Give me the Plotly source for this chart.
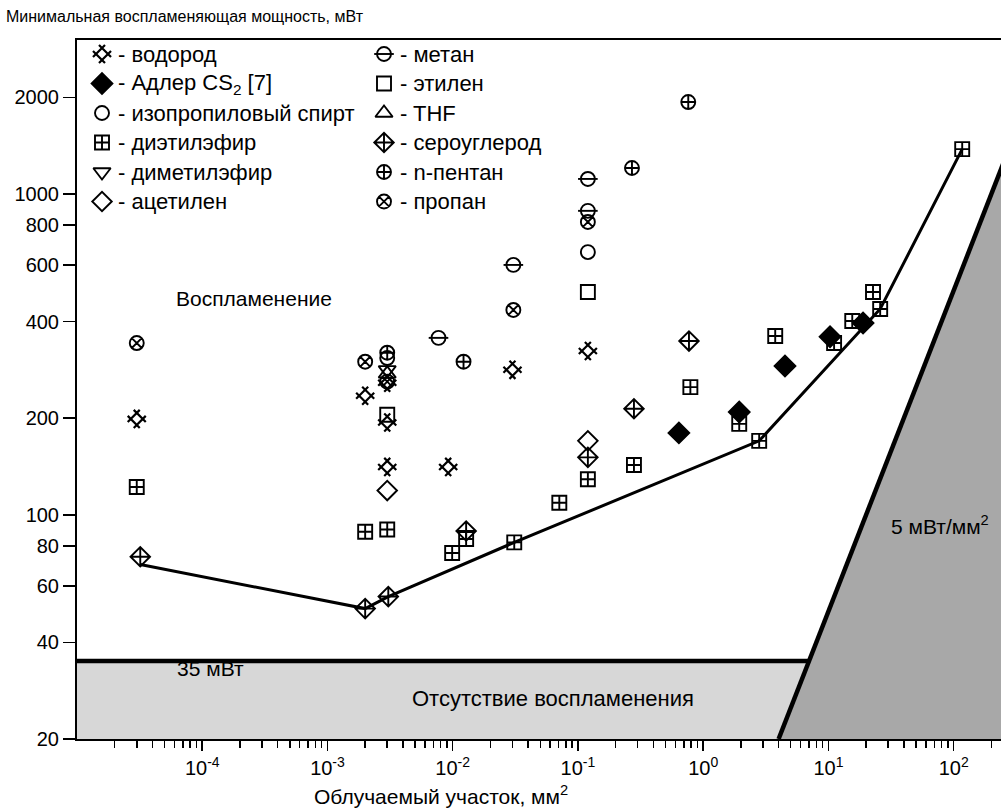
import numpy as np
import plotly.graph_objects as go

# ---------------- data ----------------
h2_x = [3e-5, 2e-3, 3e-3, 3e-3, 3e-3, 9.2e-3, 0.03, 0.12]
h2_y = [199, 235, 258, 194, 141, 141, 283, 324]

adler_x = [0.64, 1.94, 4.5, 10.3, 18.9]
adler_y = [180, 209, 291, 359, 396]

ipa_x = [3e-3, 0.12]
ipa_y = [308, 659]

dee_x = [3e-5, 2e-3, 3e-3, 9.9e-3, 0.0128, 0.031, 0.071, 0.12, 0.28, 0.79, 1.94, 2.8, 3.76, 11.1, 15.5, 22.7, 25.9, 117]
dee_y = [122, 88.5, 90, 76, 84, 82, 109, 129, 143, 250, 192, 170, 361, 343, 402, 495, 438, 1380]

dme_x = [3e-3]
dme_y = [283]

acet_x = [3e-3, 0.12]
acet_y = [119, 170]

ch4_x = [7.7e-3, 0.0305, 0.12, 0.12]
ch4_y = [356, 601, 1114, 886]

eth_x = [3e-3, 0.12]
eth_y = [205, 495]

thf_x = [3e-3]
thf_y = [275]

cs2_x = [3.2e-5, 2e-3, 3.06e-3, 0.0128, 0.12, 0.28, 0.77]
cs2_y = [74, 51, 55.6, 89, 151, 214, 348]

pent_x = [3e-3, 0.0122, 0.27, 0.76]
pent_y = [320, 300, 1205, 1935]

prop_x = [3e-5, 2e-3, 3e-3, 0.0305, 0.12]
prop_y = [343, 300, 260, 435, 818]

# boundary of minimal ignition power
line_x = [3.2e-5, 2e-3, 3.06e-3, 0.031, 2.8, 25.9, 117]
line_y = [70, 51, 55.6, 82, 170, 438, 1380]

limit_power = 35          # mW
flux_limit = 5            # mW/mm^2

x_tick_vals = [1e-4, 1e-3, 1e-2, 1e-1, 1e0, 1e1, 1e2]
x_tick_text = ["10<sup>-4</sup>", "10<sup>-3</sup>", "10<sup>-2</sup>", "10<sup>-1</sup>",
               "10<sup>0</sup>", "10<sup>1</sup>", "10<sup>2</sup>"]
y_tick_vals = [20, 40, 60, 80, 100, 200, 400, 600, 800, 1000, 2000]

legend_col1 = [("водород", "h2"), ("Адлер CS<sub>2</sub> [7]", "adler"),
               ("изопропиловый спирт", "ipa"), ("диэтилэфир", "dee"),
               ("диметилэфир", "dme"), ("ацетилен", "acet")]
legend_col2 = [("метан", "ch4"), ("этилен", "eth"), ("THF", "thf"),
               ("сероуглерод", "cs2"), ("n-пентан", "pent"), ("пропан", "prop")]

# ---------------- styling ----------------
FONT = "Liberation Sans, Arial, sans-serif"
FS_TEXT = 21
FS_LEG = 22
FS_TICK = 20
FS_TITLE = 16
W, H = 1001, 809
ML, MR, MT, MB = 77, 0, 40, 70
PW, PH = W - ML - MR, H - MT - MB
X_RANGE = [-5, 2.378]
Y_RANGE = [np.log10(20), 3.48]
LW = 1.9
MS = 14

styles = {
    "h2":    [dict(symbol="hash-open", angle=45, size=MS + 3, lw=2.2)],
    "adler": [dict(symbol="diamond", size=MS + 2)],
    "ipa":   [dict(symbol="circle-open", size=MS)],
    "dee":   [dict(symbol="square-cross-open", size=MS)],
    "dme":   [dict(symbol="triangle-down-open", size=MS + 1)],
    "acet":  [dict(symbol="diamond-open", size=MS + 1)],
    "ch4":   [dict(symbol="circle-open", size=MS), dict(symbol="line-ew", size=MS)],
    "eth":   [dict(symbol="square-open", size=MS)],
    "thf":   [dict(symbol="triangle-up-open", size=MS + 1)],
    "cs2":   [dict(symbol="diamond-cross-open", size=MS + 1)],
    "pent":  [dict(symbol="circle-cross-open", size=MS)],
    "prop":  [dict(symbol="circle-x-open", size=MS)],
}
data = {
    "h2": (h2_x, h2_y), "adler": (adler_x, adler_y), "ipa": (ipa_x, ipa_y),
    "dee": (dee_x, dee_y), "dme": (dme_x, dme_y), "acet": (acet_x, acet_y),
    "ch4": (ch4_x, ch4_y), "eth": (eth_x, eth_y), "thf": (thf_x, thf_y),
    "cs2": (cs2_x, cs2_y), "pent": (pent_x, pent_y), "prop": (prop_x, prop_y),
}


def marker(st):
    m = dict(symbol=st["symbol"], size=st["size"], color="black",
             line=dict(color="black", width=st.get("lw", LW)))
    if "angle" in st:
        m["angle"] = st["angle"]
    return m


def px_to_paper(px, py):
    return (px - ML) / PW, (H - MB - py) / PH


fig = go.Figure()

xmin, xmax = 10 ** X_RANGE[0], 10 ** (X_RANGE[1] + 0.5)
ymin, ymax = 10 ** Y_RANGE[0], 10 ** (Y_RANGE[1] + 0.5)

# light grey "no ignition" band below 35 mW
fig.add_trace(go.Scatter(
    x=[xmin, xmin, limit_power / flux_limit, ymin / flux_limit, xmin],
    y=[ymin, limit_power, limit_power, ymin, ymin],
    fill="toself", fillcolor="#d7d7d7", mode="lines", line=dict(width=0),
    hoverinfo="skip", showlegend=False))
fig.add_trace(go.Scatter(
    x=[xmin, limit_power / flux_limit], y=[limit_power, limit_power],
    mode="lines", line=dict(color="black", width=4.5), showlegend=False, hoverinfo="skip"))
# dark grey region beyond the 5 mW/mm^2 limit
fig.add_trace(go.Scatter(
    x=[ymin / flux_limit, ymax / flux_limit, xmax, xmax, ymin / flux_limit],
    y=[ymin, ymax, ymax, ymin, ymin],
    fill="toself", fillcolor="#a8a8a8", mode="lines", line=dict(width=0),
    hoverinfo="skip", showlegend=False))
fig.add_trace(go.Scatter(
    x=[ymin / flux_limit, ymax / flux_limit], y=[ymin, ymax],
    mode="lines", line=dict(color="black", width=4.5), showlegend=False, hoverinfo="skip"))

# boundary polyline
fig.add_trace(go.Scatter(x=line_x, y=line_y, mode="lines",
                         line=dict(color="black", width=3), showlegend=False, hoverinfo="skip"))

# data markers
for key, (xs, ys) in data.items():
    for st in styles[key]:
        fig.add_trace(go.Scatter(x=xs, y=ys, mode="markers", marker=marker(st),
                                 showlegend=False, cliponaxis=False))

# ---------------- legend drawn on a pixel helper axis ----------------
ROW0, ROW_STEP = 54, 29.5
COL_KEY = [102, 384]
LABEL_GAP = 14
annotations = []
for c, col in enumerate([legend_col1, legend_col2]):
    for r, (label, key) in enumerate(col):
        ky = ROW0 + r * ROW_STEP
        for st in styles[key]:
            fig.add_trace(go.Scatter(x=[COL_KEY[c]], y=[ky], xaxis="x2", yaxis="y2",
                                     mode="markers", marker=marker(st),
                                     showlegend=False, hoverinfo="skip", cliponaxis=False))
        xp, yp = px_to_paper(COL_KEY[c] + LABEL_GAP, ky)
        annotations.append(dict(x=xp, y=yp, xref="paper", yref="paper",
                                text="- " + label, showarrow=False, xanchor="left",
                                yanchor="middle", font=dict(size=FS_LEG, color="black", family=FONT)))

texts = [
    ("Воспламенение", 254, 298, "center", FS_TEXT),
    ("35 мВт", 210, 668, "center", FS_TEXT),
    ("Отсутствие воспламенения", 553, 698, "center", FS_TEXT + 1),
    ("5 мВт/мм<sup>2</sup>", 940, 525, "center", FS_TEXT),
    ("Минимальная воспламеняющая мощность, мВт", 4, 17, "left", FS_TITLE),
    ("Облучаемый участок, мм<sup>2</sup>", 441, 795, "center", FS_TEXT),
]
for t, px, py, anc, fs in texts:
    xp, yp = px_to_paper(px, py)
    annotations.append(dict(x=xp, y=yp, xref="paper", yref="paper", text=t, showarrow=False,
                            xanchor=anc, yanchor="middle",
                            font=dict(size=fs, color="black", family=FONT)))

minor_vals = [m * 10 ** e for e in range(-5, 3) for m in range(2, 10)]

fig.update_layout(
    width=W, height=H, margin=dict(l=ML, r=MR, t=MT, b=MB),
    paper_bgcolor="white", plot_bgcolor="white",
    font=dict(family=FONT, size=FS_TICK, color="black"),
    showlegend=False,
    annotations=annotations,
    xaxis=dict(type="log", range=X_RANGE, showgrid=False, zeroline=False,
               showline=True, linecolor="black", linewidth=2, mirror=True,
               ticks="outside", ticklen=10, tickwidth=1.5, tickcolor="black",
               tickvals=x_tick_vals, ticktext=x_tick_text,
               tickfont=dict(size=FS_TICK, family=FONT),
               minor=dict(ticks="outside", ticklen=7, tickwidth=1.5, tickcolor="black",
                          tickvals=minor_vals, showgrid=False)),
    yaxis=dict(type="log", range=Y_RANGE, showgrid=False, zeroline=False,
               showline=True, linecolor="black", linewidth=2,
               ticks="outside", ticklen=12, tickwidth=1.5, tickcolor="black",
               tickvals=y_tick_vals, ticktext=[str(v) for v in y_tick_vals],
               tickfont=dict(size=FS_TICK, family=FONT)),
    xaxis2=dict(overlaying="x", range=[ML, W - MR], visible=False, fixedrange=True),
    yaxis2=dict(overlaying="y", range=[H - MB, MT], visible=False, fixedrange=True),
)

fig.write_html("out.html", config={"displayModeBar": False, "staticPlot": True},
               post_script="document.body.style.margin='0px';document.body.style.overflow='hidden';")
